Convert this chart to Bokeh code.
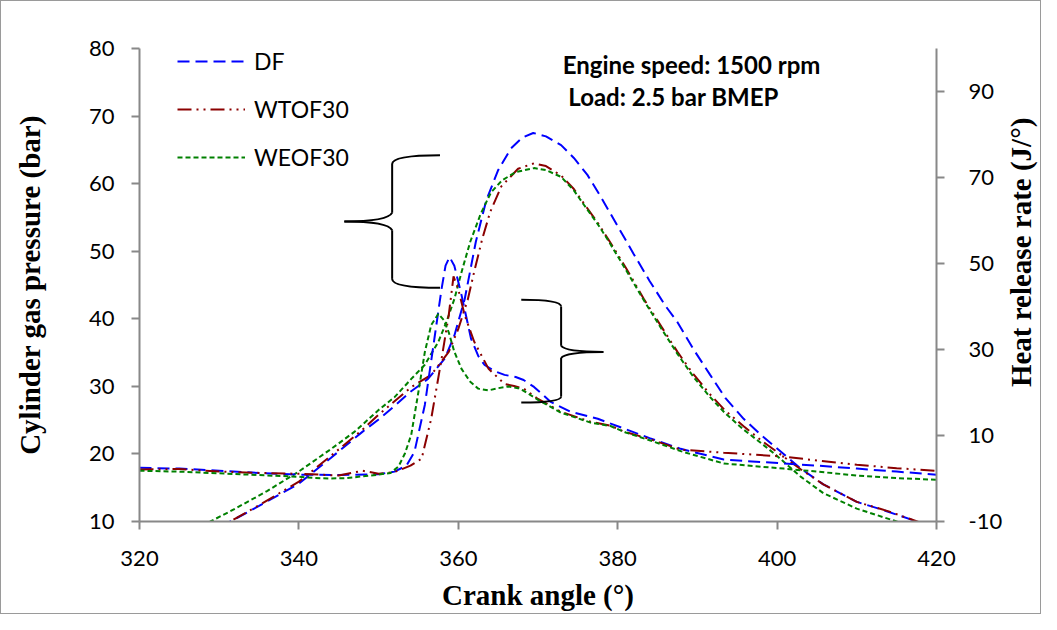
from bokeh.plotting import figure
from bokeh.layouts import row
from bokeh.models import (Range1d, LinearAxis, Legend, LegendItem, Label, FixedTicker,
                          CustomJSTickFormatter)
from bokeh.embed import file_html
from bokeh.resources import INLINE

# ---------------- data ----------------
x_ticks = [320, 340, 360, 380, 400, 420]
left_ticks = [10, 20, 30, 40, 50, 60, 70, 80]
right_ticks = [-10, 10, 30, 50, 70, 90]
series_names = ["DF", "WTOF30", "WEOF30"]

# Cylinder gas pressure (bar)
df_p_x = [328.0, 331.4, 335.0, 340.0, 344.0, 348.0, 350.0, 352.0, 354.0, 356.2, 358.3, 359.5, 360.8,
          362.2, 363.5, 365.0, 366.6, 368.0, 369.4, 371.0, 372.9, 374.5, 376.2, 378.0, 380.0, 382.0,
          384.0, 386.0, 387.5, 389.5, 391.6, 393.5, 395.8, 398.0, 400.0, 403.0, 405.8, 410.0, 413.3,
          418.3, 421.0]
df_p_y = [8.4, 10.0, 12.3, 15.6, 19.4, 23.3, 25.1, 27.1, 29.2, 31.1, 34.1, 37.5, 42.9,
          51.4, 57.5, 62.0, 65.2, 66.8, 67.5, 67.0, 65.7, 63.8, 61.3, 57.8, 53.7, 49.6,
          45.6, 41.9, 39.5, 35.5, 31.7, 28.3, 25.2, 22.8, 20.8, 17.8, 15.5, 12.9, 11.7,
          9.7, 8.9]

wt_p_x = [328.0, 331.4, 335.0, 340.0, 344.0, 348.0, 350.0, 352.0, 354.1, 356.6, 358.8, 360.0, 361.2,
          362.0, 363.0, 364.0, 365.4, 367.5, 369.5, 371.0, 372.9, 374.5, 375.8, 377.5, 378.8, 381.0,
          383.3, 385.5, 387.5, 389.5, 391.6, 393.5, 395.8, 398.0, 400.0, 403.0, 405.8, 410.0, 414.0,
          418.3, 421.0]
wt_p_y = [8.3, 10.0, 12.4, 15.9, 19.7, 23.6, 25.8, 27.8, 29.9, 31.7, 35.1, 38.5, 42.9,
          47.0, 51.8, 55.8, 59.6, 62.2, 63.0, 62.6, 61.2, 59.2, 57.0, 54.2, 51.8, 47.6,
          42.9, 38.8, 35.1, 31.8, 28.8, 26.4, 24.1, 22.0, 20.3, 17.7, 15.5, 12.9, 11.5,
          9.7, 9.0]

we_p_x = [326.0, 328.9, 332.0, 336.0, 340.0, 344.0, 347.0, 350.0, 352.0, 354.1, 355.8, 357.5, 358.5,
          359.5, 360.5, 361.5, 362.8, 364.1, 365.5, 367.2, 369.5, 371.0, 372.9, 374.5, 375.8, 377.5,
          378.8, 381.0, 383.3, 385.5, 387.5, 389.5, 391.6, 393.5, 395.8, 398.0, 400.0, 403.0, 405.8,
          410.0, 415.0, 421.0]
we_p_y = [8.4, 10.0, 11.9, 14.5, 17.4, 20.7, 23.3, 26.5, 28.4, 31.1, 33.2, 36.6, 39.5,
          42.9, 47.3, 51.4, 55.5, 58.7, 60.5, 61.7, 62.3, 62.0, 61.0, 59.0, 56.8, 54.0,
          51.6, 47.3, 42.7, 38.5, 34.8, 31.4, 28.4, 26.0, 23.6, 21.6, 19.7, 16.6, 14.2,
          11.9, 10.0, 8.0]

# Heat release rate (J/deg)
df_h_x = [320, 325, 330, 335, 340, 345, 350, 352, 353.5, 354.5, 355.8, 357.0, 357.9, 358.4, 358.9,
          359.5, 360.4, 361.6, 362.5, 363.3, 364.5, 365.8, 367.2, 368.2, 369.5, 371.6, 374.1, 377.5,
          380.8, 384, 387.9, 393.3, 400.8, 405, 410, 415, 420]
df_h_y = [2.5, 2.3, 1.8, 1.3, 0.9, 0.8, 1.0, 1.6, 3.0, 6.2, 17.1, 32.5, 44.1, 49.5, 51.5,
          49.5, 42.7, 32.5, 28.5, 26.4, 25.0, 24.1, 23.6, 22.9, 21.3, 17.8, 15.5, 13.9,
          11.6, 9.4, 6.9, 4.4, 3.5, 3.0, 2.3, 1.6, 0.9]

wt_h_x = [320, 325, 330, 335, 340, 345, 348, 350, 352, 354, 355.4, 356.6, 357.9, 358.8, 359.4,
          360.0, 360.8, 362.0, 363.8, 365.8, 367, 368.2, 370.0, 372.9, 376.6, 379.1, 380.8, 384,
          387.9, 393.3, 400.8, 405, 410, 415, 420]
wt_h_y = [2.1, 2.2, 1.6, 1.3, 1.1, 0.7, 1.8, 1.1, 1.5, 3.0, 4.6, 13.9, 27.8, 38.0, 47.0,
          44.0, 38.0, 31.8, 25.5, 22.0, 21.5, 20.9, 18.5, 15.5, 13.2, 12.3, 10.9, 9.2,
          6.7, 6.0, 5.1, 4.2, 3.2, 2.4, 1.8]

we_h_x = [320, 325, 330, 335, 340, 342, 344, 346, 348, 350, 351.5, 352.5, 353.3, 354.1, 355.0,
          355.8, 356.6, 357.5, 358.2, 358.8, 359.5, 360.4, 361.5, 362.5, 363.8, 365.0, 366.3, 367.5,
          368.2, 370.0, 372.9, 376.6, 379.1, 381, 384, 388, 393.3, 400.8, 405, 410, 415, 420]
we_h_y = [1.8, 1.6, 1.2, 0.8, 0.4, 0.1, 0.0, 0.1, 0.5, 0.9, 1.3, 2.8, 5.8, 10.2, 20.2,
          29.4, 35.7, 38.3, 36.8, 34.0, 29.5, 25.5, 22.5, 20.9, 20.5, 21.0, 21.4, 21.0,
          20.4, 18.3, 15.3, 13.0, 12.2, 10.7, 8.9, 6.3, 3.5, 2.3, 1.6, 0.7, 0.1, -0.3]

# ---------------- figure ----------------
AX = "#888888"
H = 612
p = figure(width=1004, height=H, output_backend="svg", toolbar_location=None,
           x_range=Range1d(320, 420), y_range=Range1d(10, 80),
           min_border_left=138, min_border_right=68, min_border_top=47, min_border_bottom=91)
p.outline_line_color = None
p.xgrid.visible = False
p.ygrid.visible = False
p.extra_y_ranges = {"hrr": Range1d(-10, 100)}

def style_axis(ax):
    ax.axis_line_color = AX
    ax.axis_line_width = 2
    ax.major_tick_line_color = AX
    ax.major_tick_line_width = 2
    ax.major_tick_out = 8
    ax.major_tick_in = 0
    ax.minor_tick_line_color = None
    ax.major_label_text_font = "Lato"
    ax.major_label_text_font_size = "22px"
    ax.major_label_text_color = "#000000"
    ax.axis_label_text_font = "Liberation Serif"
    ax.axis_label_text_font_style = "bold"
    ax.axis_label_text_font_size = "29px"
    ax.axis_label_text_color = "#000000"

xa = p.xaxis[0]
style_axis(xa)
xa.ticker = FixedTicker(ticks=x_ticks)
xa.axis_label = "Crank angle (°)"
xa.major_label_standoff = 21
xa.axis_label_standoff = 10

ya = p.yaxis[0]
style_axis(ya)
ya.ticker = FixedTicker(ticks=left_ticks)
ya.axis_label = "Cylinder gas pressure (bar)"
ya.major_label_standoff = 17
ya.axis_label_standoff = 40

ra = LinearAxis(y_range_name="hrr", ticker=FixedTicker(ticks=right_ticks),
                formatter=CustomJSTickFormatter(code="return String(tick);"))
style_axis(ra)
ra.major_label_standoff = 24
p.add_layout(ra, "right")

colors = ["#0000FF", "#8B0000", "#008000"]
dashes = ["12 6", "14 5 2 5 2 5", "5 3"]
LW = 2

r_df = p.line(df_p_x, df_p_y, color=colors[0], line_dash=dashes[0], line_width=LW)
r_wt = p.line(wt_p_x, wt_p_y, color=colors[1], line_dash=dashes[1], line_width=LW)
r_we = p.line(we_p_x, we_p_y, color=colors[2], line_dash=dashes[2], line_width=LW)
p.line(df_h_x, df_h_y, color=colors[0], line_dash=dashes[0], line_width=LW, y_range_name="hrr")
p.line(wt_h_x, wt_h_y, color=colors[1], line_dash=dashes[1], line_width=LW, y_range_name="hrr")
p.line(we_h_x, we_h_y, color=colors[2], line_dash=dashes[2], line_width=LW, y_range_name="hrr")

# braces (annotation shapes)
BR = dict(line_color="black", line_width=2)
# upper brace, pointing left (pressure curves)
p.quadratic(x0=357.7, y0=64.2, x1=351.7, y1=62.9, cx=351.7, cy=64.2, **BR)
p.segment(x0=351.7, y0=62.9, x1=351.7, y1=55.7, **BR)
p.quadratic(x0=351.7, y0=55.7, x1=345.7, y1=54.4, cx=351.2, cy=54.4, **BR)
p.quadratic(x0=345.7, y0=54.4, x1=351.7, y1=53.1, cx=351.2, cy=54.4, **BR)
p.segment(x0=351.7, y0=53.1, x1=351.7, y1=45.9, **BR)
p.quadratic(x0=351.7, y0=45.9, x1=357.7, y1=44.6, cx=351.7, cy=44.6, **BR)
# lower brace, pointing right (heat release curves)
p.quadratic(x0=367.9, y0=42.8, x1=372.9, y1=41.8, cx=372.9, cy=42.8, **BR)
p.segment(x0=372.9, y0=41.8, x1=372.9, y1=36.0, **BR)
p.quadratic(x0=372.9, y0=36.0, x1=378.2, y1=35.1, cx=373.4, cy=35.1, **BR)
p.quadratic(x0=378.2, y0=35.1, x1=372.9, y1=34.2, cx=373.4, cy=35.1, **BR)
p.segment(x0=372.9, y0=34.2, x1=372.9, y1=28.5, **BR)
p.quadratic(x0=372.9, y0=28.5, x1=367.9, y1=27.6, cx=372.9, cy=27.6, **BR)

# text annotations
for txt, x, y in [("Engine speed:  1500 rpm", 373.1, 77.6), ("Load: 2.5 bar BMEP", 373.8, 72.9)]:
    p.add_layout(Label(x=x, y=y, text=txt, text_font="Lato", text_font_style="bold",
                       text_font_size="24px", text_baseline="middle", text_align="left",
                       text_color="black"))

legend = Legend(items=[LegendItem(label=series_names[0], renderers=[r_df]),
                       LegendItem(label=series_names[1], renderers=[r_wt]),
                       LegendItem(label=series_names[2], renderers=[r_we])],
                location=(38, 350), orientation="vertical")
legend.border_line_color = None
legend.background_fill_alpha = 0
legend.padding = 0
legend.margin = 0
legend.spacing = 20
legend.glyph_width = 68
legend.glyph_height = 24
legend.label_height = 24
legend.label_standoff = 9
legend.label_text_font = "Lato"
legend.label_text_font_size = "23px"
legend.label_text_color = "black"
p.add_layout(legend)

# narrow strip holding the right-hand axis title (reads bottom to top)
p2 = figure(width=35, height=H, output_backend="svg", toolbar_location=None,
            x_range=Range1d(0, 1), y_range=Range1d(0, 1),
            x_axis_location=None, y_axis_location=None, min_border=0)
p2.outline_line_color = None
p2.xgrid.visible = False
p2.ygrid.visible = False
p2.add_layout(Label(x=0.457, y=0.569, text="Heat release rate (J/°)", angle=90, angle_units="deg",
                    text_font="Liberation Serif", text_font_style="bold", text_font_size="29px",
                    text_align="center", text_baseline="middle", text_color="black"))

layout = row(p, p2, spacing=0)
layout.styles = {"border": "1px solid #9a9a9a"}

open("out.html", "w").write(file_html(layout, INLINE))
